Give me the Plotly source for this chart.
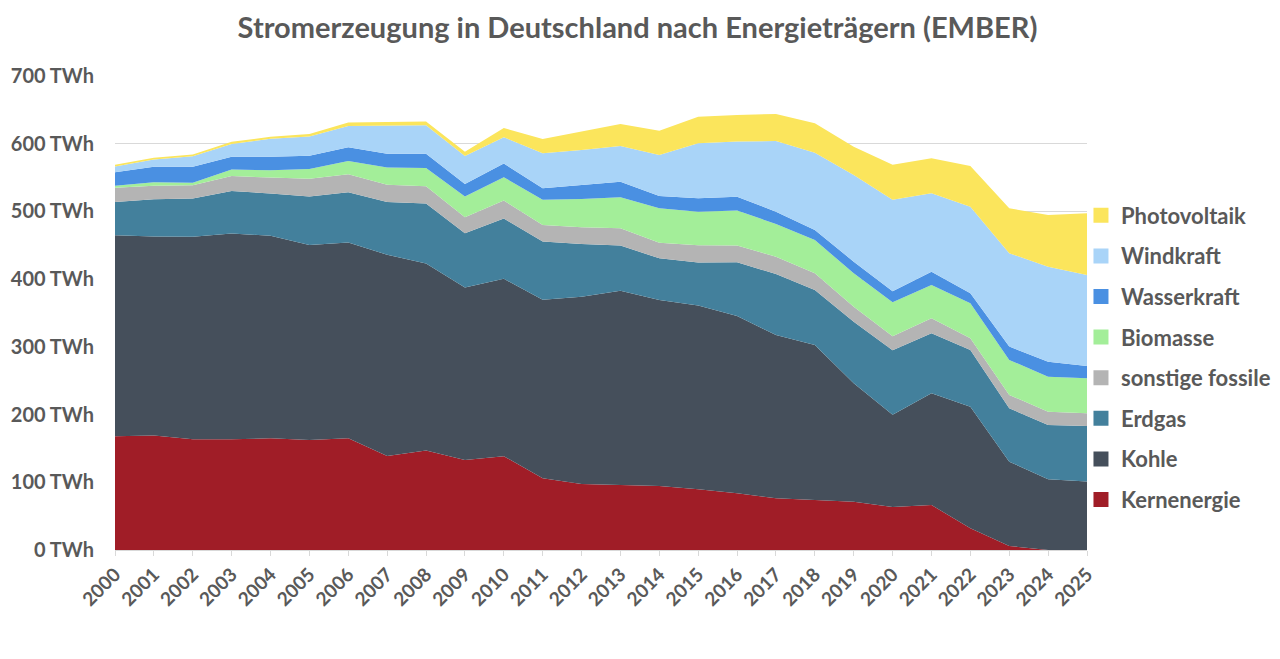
import plotly.graph_objects as go

jahre = [2000, 2001, 2002, 2003, 2004, 2005, 2006, 2007, 2008, 2009, 2010, 2011, 2012,
         2013, 2014, 2015, 2016, 2017, 2018, 2019, 2020, 2021, 2022, 2023, 2024, 2025]

# TWh
kernenergie = [168, 169, 163.5, 163.5, 165, 162.5, 165, 139, 147, 133, 138.5, 106, 97.5,
               96, 94.5, 89.6, 83.7, 76.3, 73.8, 71.4, 63.5, 66.4, 32, 6, 0, 0]
kohle = [297, 294, 299, 304, 299, 288, 289, 297, 276, 254.5, 262, 263.5, 276.6,
         287, 274.7, 271.3, 261.9, 241.2, 229, 174.7, 136.4, 165, 179.7, 124.5, 104.4, 101]
erdgas = [49, 55, 56.6, 62.5, 62.5, 71.4, 74.4, 77.8, 88.6, 80.2, 89, 86.2, 77.8,
          66.5, 61.6, 63.5, 79.3, 90.1, 81.2, 91.1, 95, 88.6, 83.7, 78.8, 80.2, 82.1]
sonstige = [21, 20, 19.7, 22.2, 23.6, 26.5, 26.5, 25.6, 25.6, 23.6, 26.5, 24.1, 24.6,
            25.5, 23.1, 25.6, 24.6, 25.6, 24.6, 22.2, 20.7, 22.1, 17.2, 19.7, 19.7, 18.7]
biomasse = [3, 5, 3.4, 9.8, 10.8, 14.3, 19.7, 25.6, 27.1, 30.6, 34.5, 37.4, 41.9,
            45.8, 50.7, 49.7, 51.7, 48.3, 49.2, 49.2, 50.2, 49.2, 51.7, 51.7, 51.7, 51.7]
wasser = [20, 23, 23.7, 18.7, 19.7, 19.7, 20.2, 20.2, 20.7, 18.7, 20.2, 17.2, 20.7,
          23.2, 18.2, 19.7, 20.6, 18.2, 14.8, 17.2, 16.2, 19.7, 14.7, 19.7, 22.1, 18.2]
wind = [8.4, 10.8, 15.7, 18.7, 26.6, 28.1, 31.5, 41.3, 42.3, 41.3, 38.9, 51.7, 51.7,
        52.7, 60.6, 81.2, 81.3, 104.3, 114.2, 128, 135.4, 115.7, 128, 137.8, 140.3, 134.4]
photovoltaik = [2.5, 2.5, 2.5, 3.5, 3, 3.9, 4.9, 5.9, 5.4, 6.4, 13.5, 20.7, 27,
                32.5, 35.9, 39.4, 39.3, 39.9, 43.3, 41.9, 51.7, 51.7, 60.1, 66.5, 76.3, 91.1]

# von unten nach oben
reihen = [
    ("Kernenergie", kernenergie, "#A01D27"),
    ("Kohle", kohle, "#454F5B"),
    ("Erdgas", erdgas, "#43809C"),
    ("sonstige fossile", sonstige, "#B4B4B4"),
    ("Biomasse", biomasse, "#A3EE99"),
    ("Wasserkraft", wasser, "#4A90E2"),
    ("Windkraft", wind, "#A9D4F8"),
    ("Photovoltaik", photovoltaik, "#FBE55C"),
]

grau = "#595959"
schrift = "Lato"

fig = go.Figure()
for name, werte, farbe in reihen:
    fig.add_trace(go.Scatter(
        x=jahre, y=werte, name=name, stackgroup="eins",
        mode="lines", line=dict(width=0, color=farbe), fillcolor=farbe,
        showlegend=False,
        hovertemplate="%{x}: %{y:.0f} TWh<extra>" + name + "</extra>",
    ))

# Legende mit quadratischen Symbolen, oben Photovoltaik
for name, werte, farbe in reversed(reihen):
    fig.add_trace(go.Scatter(
        x=[None], y=[None], name=name, mode="markers", legendgroup=name,
        marker=dict(symbol="square", size=15, color=farbe),
    ))

fig.update_layout(
    width=1280,
    height=659,
    autosize=False,
    margin=dict(l=107, r=201, t=68, b=117, autoexpand=False),
    plot_bgcolor="white",
    paper_bgcolor="white",
    font=dict(family=schrift, size=21, color=grau, weight="bold"),
    title=dict(
        text="Stromerzeugung in Deutschland nach Energieträgern (EMBER)",
        x=0.4918, xref="container", xanchor="center",
        y=1 - 20 / 659, yref="container", yanchor="middle",
        font=dict(family=schrift, size=29, color=grau, weight="bold"),
    ),
    legend=dict(
        x=0.9938, xanchor="left", y=0.75, yanchor="top",
        traceorder="grouped", tracegroupgap=9,
        font=dict(family=schrift, size=22, color=grau, weight="bold"),
        bgcolor="rgba(0,0,0,0)",
    ),
    showlegend=True,
)

fig.update_xaxes(
    range=[2000, 2025], tickmode="linear", tick0=2000, dtick=1,
    tickangle=-45, showgrid=False, showline=True, linecolor="#D9D9D9", linewidth=1,
    ticks="outside", ticklen=5, tickcolor="#D9D9D9",
    tickfont=dict(family=schrift, size=19, color=grau, weight="bold"),
    zeroline=False, automargin=False,
)
fig.update_yaxes(
    range=[0, 700], dtick=100, ticksuffix=" TWh", showgrid=True,
    gridcolor="#D9D9D9", gridwidth=1, zeroline=False, showline=False,
    ticklabelstandoff=20, automargin=False,
    tickfont=dict(family=schrift, size=20, color=grau, weight="bold"),
)

fig.write_html("out.html")
